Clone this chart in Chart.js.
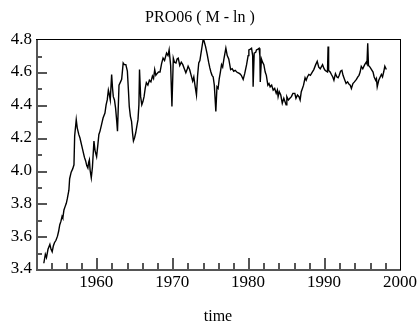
<!DOCTYPE html>
<html><head><meta charset="utf-8">
<script src="https://cdn.jsdelivr.net/npm/chart.js@4/dist/chart.umd.min.js"></script>
<style>html,body{margin:0;padding:0;background:#fff}#wrap{width:420px;height:332px}</style>
</head><body><div id="wrap"><canvas id="c" width="420" height="332"></canvas></div>
<script>
const years = [1953.1,1953.3,1953.45,1953.65,1953.9,1954.05,1954.2,1954.35,1954.5,1954.7,1954.9,1955.05,1955.2,1955.35,1955.5,1955.6,1955.75,1955.9,1956.06,1956.2,1956.4,1956.5,1956.7,1956.9,1957.07,1957.16,1957.37,1957.5,1957.7,1957.85,1957.95,1958.1,1958.25,1958.45,1958.6,1958.75,1958.9,1959.0,1959.1,1959.2,1959.35,1959.5,1959.7,1959.85,1960.05,1960.2,1960.35,1960.5,1960.7,1960.9,1961.15,1961.3,1961.45,1961.6,1961.7,1961.85,1962.03,1962.15,1962.25,1962.4,1962.55,1962.7,1962.8,1963.0,1963.2,1963.35,1963.55,1963.7,1963.9,1964.1,1964.25,1964.35,1964.5,1964.65,1964.8,1964.9,1965.05,1965.2,1965.35,1965.5,1965.62,1965.7,1965.85,1966.0,1966.15,1966.3,1966.45,1966.6,1966.8,1967.0,1967.2,1967.4,1967.55,1967.7,1967.85,1968.0,1968.2,1968.4,1968.6,1968.8,1969.0,1969.26,1969.45,1969.6,1969.8,1969.97,1970.15,1970.3,1970.5,1970.65,1970.8,1971.0,1971.2,1971.4,1971.6,1971.8,1972.0,1972.1,1972.3,1972.5,1972.7,1972.85,1973.0,1973.2,1973.35,1973.5,1973.65,1973.8,1973.95,1974.1,1974.25,1974.4,1974.6,1974.8,1974.96,1975.1,1975.25,1975.4,1975.55,1975.75,1975.9,1976.05,1976.2,1976.35,1976.5,1976.65,1976.8,1977.07,1977.25,1977.45,1977.7,1977.9,1978.1,1978.3,1978.5,1978.7,1978.9,1979.1,1979.35,1979.55,1979.8,1980.0,1980.1,1980.3,1980.45,1980.6,1980.66,1980.8,1981.0,1981.1,1981.3,1981.45,1981.55,1981.6,1981.75,1981.9,1982.07,1982.25,1982.4,1982.6,1982.75,1982.9,1983.1,1983.3,1983.5,1983.7,1983.85,1983.95,1984.1,1984.3,1984.5,1984.7,1984.85,1985.0,1985.1,1985.3,1985.5,1985.7,1985.9,1986.15,1986.3,1986.5,1986.7,1986.85,1987.0,1987.15,1987.3,1987.5,1987.65,1987.8,1988.0,1988.2,1988.45,1988.65,1988.9,1989.1,1989.3,1989.5,1989.8,1990.0,1990.15,1990.3,1990.45,1990.53,1990.6,1990.8,1990.97,1991.15,1991.3,1991.5,1991.7,1991.85,1992.0,1992.17,1992.35,1992.5,1992.7,1992.9,1993.1,1993.3,1993.45,1993.6,1993.8,1994.0,1994.26,1994.45,1994.6,1994.75,1994.9,1995.1,1995.35,1995.55,1995.65,1995.75,1995.85,1996.05,1996.25,1996.45,1996.6,1996.8,1996.9,1997.0,1997.2,1997.35,1997.55,1997.7,1997.85,1998.0,1998.2];
const values = [3.435,3.49,3.47,3.52,3.55,3.52,3.505,3.54,3.56,3.575,3.60,3.63,3.67,3.69,3.72,3.71,3.76,3.78,3.80,3.83,3.88,3.95,3.99,4.01,4.035,4.21,4.31,4.26,4.22,4.20,4.18,4.15,4.12,4.08,4.06,4.03,4.015,4.05,4.065,4.00,3.955,4.02,4.18,4.12,4.085,4.15,4.22,4.24,4.28,4.32,4.35,4.40,4.43,4.49,4.47,4.43,4.585,4.50,4.45,4.43,4.38,4.30,4.24,4.52,4.54,4.555,4.655,4.645,4.645,4.605,4.48,4.39,4.33,4.30,4.22,4.18,4.20,4.23,4.27,4.31,4.40,4.615,4.45,4.40,4.42,4.45,4.50,4.535,4.52,4.55,4.54,4.575,4.56,4.615,4.58,4.59,4.60,4.60,4.65,4.685,4.67,4.715,4.70,4.735,4.64,4.39,4.685,4.66,4.655,4.68,4.685,4.64,4.66,4.645,4.62,4.595,4.62,4.635,4.615,4.58,4.545,4.57,4.52,4.46,4.58,4.655,4.67,4.715,4.76,4.805,4.78,4.755,4.71,4.66,4.625,4.60,4.58,4.57,4.52,4.36,4.51,4.50,4.56,4.60,4.645,4.63,4.675,4.745,4.70,4.68,4.615,4.62,4.605,4.61,4.60,4.595,4.59,4.58,4.555,4.59,4.645,4.70,4.735,4.74,4.745,4.70,4.51,4.715,4.72,4.735,4.74,4.745,4.70,4.54,4.68,4.66,4.645,4.60,4.58,4.52,4.53,4.51,4.52,4.49,4.50,4.47,4.49,4.45,4.48,4.46,4.41,4.44,4.42,4.40,4.45,4.43,4.44,4.45,4.47,4.47,4.44,4.46,4.45,4.43,4.48,4.50,4.52,4.565,4.55,4.57,4.585,4.58,4.60,4.615,4.645,4.665,4.63,4.62,4.645,4.62,4.61,4.605,4.60,4.755,4.61,4.60,4.585,4.57,4.55,4.59,4.57,4.565,4.58,4.605,4.61,4.58,4.555,4.53,4.54,4.525,4.52,4.50,4.53,4.54,4.555,4.57,4.58,4.60,4.635,4.62,4.645,4.66,4.65,4.775,4.64,4.63,4.615,4.60,4.57,4.55,4.56,4.51,4.55,4.565,4.585,4.57,4.60,4.635,4.615];
const xTicks = [1960,1970,1980,1990,2000];
const yTicks = [3.4,3.6,3.8,4.0,4.2,4.4,4.6,4.8];
const titleText = 'PRO06 ( M - ln )';
const xTitle = 'time';

const serif = '"Liberation Serif", "DejaVu Serif", serif';

const tickPlugin = {
  id: 'inTicks',
  afterDraw(chart) {
    const ctx = chart.ctx;
    const a = chart.chartArea;
    const x = chart.scales.x, y = chart.scales.y;
    const L = Math.round(a.left), B = Math.round(a.bottom);
    const T = Math.round(a.top), R = Math.round(a.right);
    ctx.save();
    ctx.fillStyle = '#555';
    for (let t = 1954; t <= 1998; t += 2) {
      const px = Math.round(x.getPixelForValue(t));
      const len = (t % 10 === 0) ? 11 : 6;
      ctx.fillRect(px, B - len, 2, len);
    }
    for (let i = 35; i <= 47; i++) {
      const py = Math.round(y.getPixelForValue(i / 10));
      const len = (i % 2 === 0) ? 11 : 6;
      ctx.fillRect(L, py, len, 2);
    }
    ctx.fillRect(L, T, 2, B - T + 1);
    ctx.fillRect(L, B, R - L + 1, 2);
    ctx.fillStyle = '#000';
    ctx.fillRect(L, T, R - L + 1, 1);
    ctx.fillRect(R, T, 1, B - T + 1);
    ctx.restore();
  }
};

new Chart(document.getElementById('c'), {
  type: 'line',
  data: {
    datasets: [{
      data: years.map((t, i) => ({x: t, y: values[i]})),
      borderColor: '#000',
      borderWidth: 1.4,
      pointRadius: 0,
      tension: 0,
      fill: false
    }]
  },
  options: {
    responsive: false,
    animation: false,
    layout: {padding: {left: 0, right: 20, top: 0, bottom: 0}},
    plugins: {
      legend: {display: false},
      tooltip: {enabled: false},
      title: {
        display: true,
        text: titleText,
        color: '#000',
        font: {family: serif, size: 16, weight: 'normal'},
        padding: {top: 8, bottom: 12}
      }
    },
    scales: {
      x: {
        type: 'linear',
        min: 1952.07,
        max: 2000,
        afterBuildTicks: s => { s.ticks = xTicks.map(v => ({value: v})); },
        afterFit: s => { s.height = 63; },
        grid: {display: false, drawTicks: false},
        border: {display: false},
        ticks: {
          color: '#000',
          font: {family: serif, size: 17},
          padding: 3,
          maxRotation: 0,
          callback: v => String(v)
        },
        title: {
          display: true,
          text: xTitle,
          color: '#000',
          font: {family: serif, size: 16},
          padding: {top: 0, bottom: 6}
        }
      },
      y: {
        min: 3.4,
        max: 4.8,
        afterBuildTicks: s => { s.ticks = yTicks.map(v => ({value: v})); },
        afterFit: s => { s.width = 36; },
        grid: {display: false, drawTicks: false},
        border: {display: false},
        ticks: {
          color: '#000',
          font: {family: serif, size: 17},
          padding: 4,
          callback: v => Number(v).toFixed(1)
        }
      }
    }
  },
  plugins: [tickPlugin]
});
</script></body></html>
